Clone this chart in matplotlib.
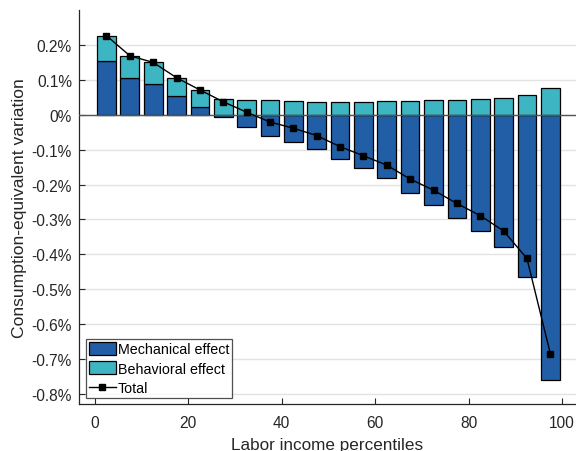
import numpy as np
import matplotlib.pyplot as plt
from matplotlib.ticker import FuncFormatter
from matplotlib.lines import Line2D
from matplotlib.patches import Patch

plt.rcParams['font.family'] = ['Liberation Sans', 'DejaVu Sans']

# Percentile bins (centres of 5-point groups)
percentiles = np.arange(2.5, 100, 5)

# Welfare effects in % of consumption
mechanical = [0.154, 0.106, 0.089, 0.055, 0.024, -0.007, -0.035, -0.061, -0.078, -0.097,
              -0.126, -0.152, -0.181, -0.224, -0.258, -0.296, -0.334, -0.380, -0.466, -0.761]
behavioral = [0.074, 0.064, 0.062, 0.052, 0.048, 0.045, 0.044, 0.042, 0.040, 0.037,
              0.037, 0.038, 0.039, 0.040, 0.042, 0.044, 0.047, 0.049, 0.057, 0.077]
total = [0.228, 0.170, 0.151, 0.107, 0.072, 0.038, 0.008, -0.020, -0.038, -0.059,
         -0.091, -0.117, -0.144, -0.184, -0.216, -0.254, -0.289, -0.333, -0.412, -0.685]

mech = np.array(mechanical)
behav = np.array(behavioral)
# behavioural part stacks on top of mechanical when positive, else starts at zero
behav_base = np.where(mech > 0, mech, 0)

c_mech = '#215ea6'
c_behav = '#3db5c2'

fig = plt.figure(figsize=(5.76, 4.52), dpi=100)
ax = fig.add_axes([0.137, 0.104, 0.863, 0.872])

ax.set_axisbelow(True)
ax.yaxis.grid(True, color='#e3e3e3', lw=1)

ax.bar(percentiles, mech, width=4, color=c_mech, edgecolor='black', lw=0.9, zorder=2)
ax.bar(percentiles, behav, width=4, bottom=behav_base, color=c_behav,
       edgecolor='black', lw=0.9, zorder=2)
ax.axhline(0, color='#555555', lw=1, zorder=3)
ax.plot(percentiles, total, '-s', color='black', lw=1, ms=5, zorder=4)

ax.set_xlim(-3.4, 103)
ax.set_ylim(-0.83, 0.302)
ax.set_xticks([0, 20, 40, 60, 80, 100])
ax.set_yticks(np.arange(-0.8, 0.21, 0.1))
ax.yaxis.set_major_formatter(FuncFormatter(lambda v, p: '0%' if abs(v) < 1e-9 else f'{v:.1f}%'))
ax.tick_params(direction='in', length=4, labelsize=11.2, colors='#262626', width=0.8)
ax.tick_params(axis='y', pad=5)
ax.tick_params(axis='x', pad=8)
for s in ['top', 'right']:
    ax.spines[s].set_visible(False)
for s in ['left', 'bottom']:
    ax.spines[s].set_color('#262626')
    ax.spines[s].set_linewidth(0.9)

ax.set_xlabel('Labor income percentiles', fontsize=12.3, color='#262626', labelpad=5)
ax.set_ylabel('Consumption-equivalent variation', fontsize=12.6, color='#262626', labelpad=3)

handles = [Patch(facecolor=c_mech, edgecolor='black', lw=0.9),
           Patch(facecolor=c_behav, edgecolor='black', lw=0.9),
           Line2D([], [], color='black', marker='s', lw=1, ms=5)]
leg = ax.legend(handles, ['Mechanical effect', 'Behavioral effect', 'Total'],
                loc='lower left', bbox_to_anchor=(0.015, 0.015), fontsize=10.3,
                frameon=True, fancybox=False, borderpad=0.2, labelspacing=0.36,
                handlelength=1.85, handleheight=1.0, handletextpad=0.15, borderaxespad=0)
leg.get_frame().set_edgecolor('#262626')
leg.get_frame().set_linewidth(0.9)

fig.savefig('out.png', dpi=100)
